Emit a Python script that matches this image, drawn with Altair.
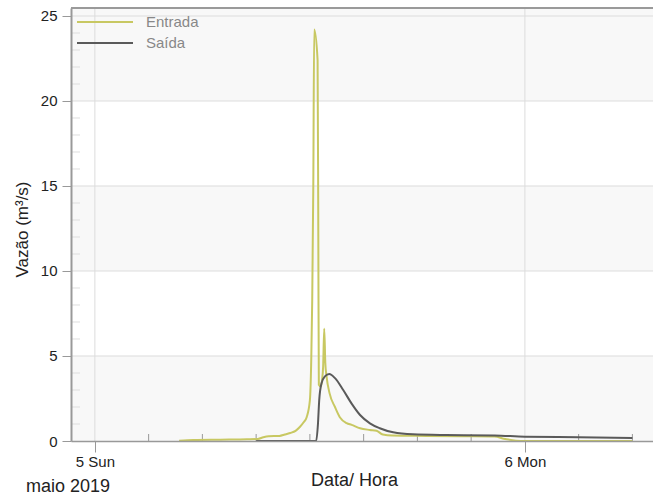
import altair as alt
import pandas as pd

# Hydrograph of inflow (Entrada) and outflow (Saída), 5-6 May 2019
START = pd.Timestamp("2019-05-05 00:00")

# hours after 5 May 00:00 and flow in m3/s
entrada_horas = [4.7, 5.5, 7.0, 8.5, 9.1, 9.4, 9.7, 10.3, 10.6, 10.9, 11.2, 11.45,
                 11.65, 11.82, 12.0, 12.08, 12.13, 12.19, 12.24, 12.43, 12.47, 12.5,
                 12.6, 12.68, 12.74, 12.8, 12.86, 12.93, 13.1, 13.4, 13.67, 14.05,
                 14.33, 14.8, 15.35, 15.72, 16.07, 16.6, 18.5, 20.5, 22.3, 22.9,
                 23.5, 24.0, 30.0]
entrada_vazao = [0.02, 0.06, 0.08, 0.1, 0.12, 0.22, 0.28, 0.3, 0.38, 0.47, 0.6, 0.84,
                 1.1, 1.4, 2.4, 5.0, 8.3, 15.0, 24.2, 22.4, 12.0, 3.3,
                 3.2, 3.6, 4.4, 6.6, 4.6, 3.8, 2.8, 2.0, 1.4, 1.05,
                 0.95, 0.75, 0.65, 0.6, 0.38, 0.32, 0.3, 0.28, 0.26, 0.12,
                 0.02, 0.0, 0.0]

saida_horas = [9.0, 12.35, 12.45, 12.52, 12.65, 12.84, 13.08, 13.4, 13.86, 14.33,
               14.8, 15.35, 15.9, 16.65, 17.75, 19.6, 22.3, 24.0, 27.0, 30.0]
saida_vazao = [0.0, 0.0, 1.0, 2.4, 3.4, 3.8, 3.94, 3.7, 3.0, 2.2,
               1.53, 1.04, 0.75, 0.51, 0.39, 0.35, 0.33, 0.25, 0.22, 0.18]

series_names = ["Entrada", "Saída"]
series_colors = ["#c8c862", "#5a5a5a"]

y_ticks = [0, 5, 10, 15, 20, 25]
y_minor = [v for v in range(1, 26) if v % 5]
x_minor_hours = [3, 6, 9, 12, 15, 18, 21, 27, 30]
band_lo = [0, 10, 20]
band_hi = [5, 15, 25.47]

W, H = 582, 433
FONT = "Liberation Sans"


def to_time(hours):
    return START + pd.to_timedelta(hours, unit="h")


flow = pd.concat([
    pd.DataFrame({"hora": to_time(entrada_horas), "vazao": entrada_vazao, "serie": "Entrada"}),
    pd.DataFrame({"hora": to_time(saida_horas), "vazao": saida_vazao, "serie": "Saída"}),
])

x_scale = alt.Scale(domain=[alt.DateTime(year=2019, month=5, date=4, hours=22, minutes=40),
                            alt.DateTime(year=2019, month=5, date=6, hours=7, minutes=9)])
y_scale = alt.Scale(domain=[0, 25.47], nice=False)

day_values = [alt.DateTime(year=2019, month=5, date=5), alt.DateTime(year=2019, month=5, date=6)]

x_axis = alt.Axis(values=day_values, format="%-d %a", grid=False, zindex=1,
                  labelFontSize=15, labelColor="#222", labelPadding=2,
                  tickSize=11, tickColor="#999", domainColor="#999", domainWidth=1.5,
                  title="Data/ Hora", titleFontSize=18, titleFontWeight="normal",
                  titleColor="#222", titleX=283, titleY=39, titleAlign="center",
                  titleBaseline="middle")
y_axis = alt.Axis(values=y_ticks, grid=False, zindex=1,
                  labelFontSize=15, labelColor="#222", labelPadding=5,
                  tickSize=9, tickColor="#999", domainColor="#999", domainWidth=2,
                  title="Vazão (m³/s)", titleFontSize=17, titleFontWeight="normal",
                  titleColor="#222", titleX=-49, titleY=221, titleAlign="center",
                  titleBaseline="middle", titleAngle=-90)

bands = alt.Chart(pd.DataFrame({"lo": band_lo, "hi": band_hi})).mark_rect(
    color="#f8f8f8").encode(
    y=alt.Y("lo:Q", scale=y_scale), y2="hi:Q",
    x=alt.value(0), x2=alt.value(W))

h_grid = alt.Chart(pd.DataFrame({"v": y_ticks[1:]})).mark_rule(
    color="#dcdcdc", strokeWidth=1).encode(y=alt.Y("v:Q", scale=y_scale))

v_grid = alt.Chart(pd.DataFrame({"d": to_time([0, 24])})).mark_rule(
    color="#dcdcdc", strokeWidth=1).encode(x=alt.X("d:T", scale=x_scale))

y_minor_ticks = alt.Chart(pd.DataFrame({"v": y_minor})).mark_rule(
    color="#dedede", strokeWidth=1).encode(
    y=alt.Y("v:Q", scale=y_scale), x=alt.value(0), x2=alt.value(9))

x_minor_ticks = alt.Chart(pd.DataFrame({"d": to_time(x_minor_hours)})).mark_rule(
    color="#999", strokeWidth=1).encode(
    x=alt.X("d:T", scale=x_scale), y=alt.value(H), y2=alt.value(H - 7))

lines = alt.Chart(flow).mark_line(strokeWidth=2, interpolate="monotone").encode(
    x=alt.X("hora:T", scale=x_scale, axis=x_axis),
    y=alt.Y("vazao:Q", scale=y_scale, axis=y_axis),
    color=alt.Color("serie:N", scale=alt.Scale(domain=series_names, range=series_colors),
                    legend=None),
)

# legend drawn inside the top-left corner of the plot
legend_layers = []
for name, color, row in zip(series_names, series_colors, [14, 35]):
    src = alt.Chart(pd.DataFrame({"t": [name]}))
    legend_layers.append(src.mark_rule(color=color, strokeWidth=2).encode(
        x=alt.value(6), x2=alt.value(62), y=alt.value(row)))
    legend_layers.append(src.mark_text(align="left", baseline="middle", fontSize=15,
                                       color="#888", font=FONT).encode(
        text="t:N", x=alt.value(75), y=alt.value(row)))

top_border = alt.Chart(pd.DataFrame({"t": [0]})).mark_rule(
    color="#9a9a9a", strokeWidth=2).encode(x=alt.value(0), x2=alt.value(W), y=alt.value(0))

date_note = alt.Chart(pd.DataFrame({"t": ["maio 2019"]})).mark_text(
    align="left", baseline="middle", fontSize=18, color="#222", font=FONT).encode(
    text="t:N", x=alt.value(-45), y=alt.value(479))

chart = alt.layer(
    bands, h_grid, v_grid, y_minor_ticks, x_minor_ticks, lines,
    *legend_layers, top_border, date_note
).properties(
    width=W, height=H,
    autosize=alt.AutoSizeParams(type="none"),
    padding={"left": 71, "top": 8, "right": 0, "bottom": 58},
).configure(font=FONT).configure_view(stroke=None)

chart.save("out.html", embed_options={"renderer": "svg", "actions": False})
